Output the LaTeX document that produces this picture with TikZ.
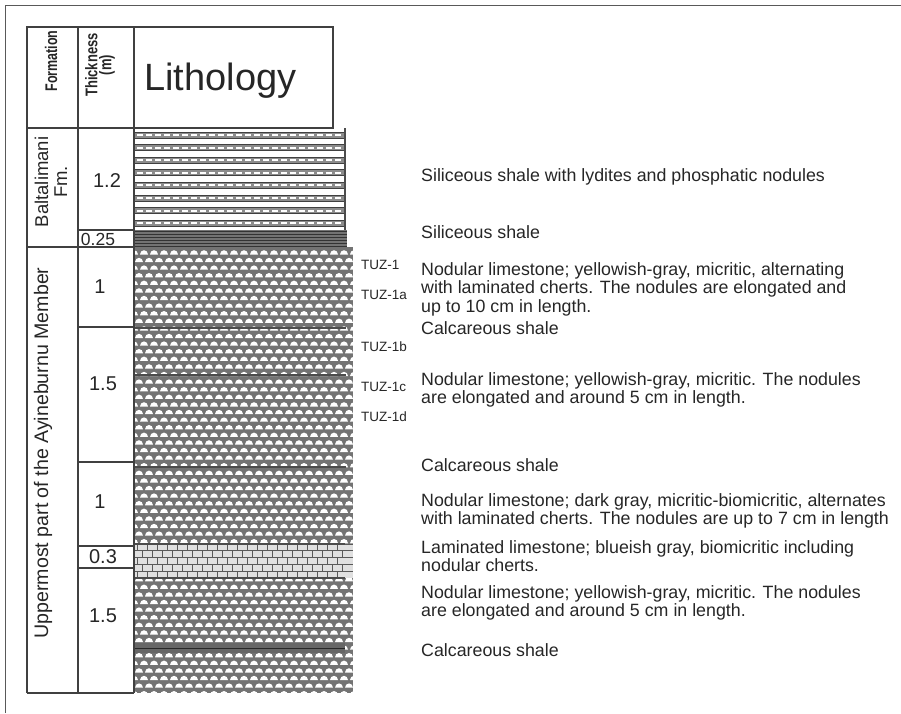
\documentclass[tikz,border=0pt]{standalone}
\usepackage{fontspec}
\setmainfont{Liberation Sans}
\usetikzlibrary{positioning}

\begin{document}
\begin{tikzpicture}[
    x=1pt, y=-1pt,
    grid/.style={draw=black!75, line width=1.1pt},
    head/.style={rotate=90, align=center, inner sep=0pt, font=\bfseries\fontsize{12.5}{14}\selectfont, text=black!85},
    unit/.style={rotate=90, align=center, inner sep=0pt, font=\fontsize{18.5}{19}\selectfont, text=black!85},
    num/.style={inner sep=0pt, font=\fontsize{20}{20}\selectfont, text=black!85},
    sample/.style={anchor=west, inner sep=0pt, font=\fontsize{13.5}{14}\selectfont, text=black!85},
    desc/.style={anchor=west, align=left, inner sep=0pt, font=\fontsize{17.8}{18.5}\selectfont, text=black!85},
    shale/.style={draw=black!70, line width=2.5pt},
]
\useasboundingbox (0,0) rectangle (901,713);

% Frame
\draw[black!65, line width=1.5pt] (5.5,713) -- (5.5,5.5) -- (901,5.5);

% Nodular limestone
\begin{scope}
    \clip (134,247) rectangle (353,693);
    \fill[black!55] (134,247) rectangle (353,693);
    \foreach \j in {0,...,59}
        \foreach \i in {0,...,22}
            \fill[white] ({130+10*\i+5*mod(\j,2)},{254.5+7.6*\j}) arc[start angle=180, end angle=360, x radius=4, y radius=4.3];
\end{scope}

% Siliceous shale
\fill[white] (134,128) rectangle (345,230);
\foreach \k in {0,...,7} {
    \fill[black!45] (134,{132+12.6*\k}) rectangle (345,{138+12.6*\k});
    \draw[black!75, line width=0.9pt] (134,{132+12.6*\k}) -- (345,{132+12.6*\k});
    \draw[black!75, line width=0.9pt] (134,{138+12.6*\k}) -- (345,{138+12.6*\k});
    \draw[white, line width=2pt, dash pattern=on 6pt off 3pt] (137,{135+12.6*\k}) -- (345,{135+12.6*\k});
}
\draw[black!70, line width=1.3pt] (345,128) -- (345,230);
\fill[black!55] (134,230) rectangle (347,247);
\foreach \k in {0,...,5}
    \draw[black!80, line width=0.8pt] (134,{231+3*\k}) -- (347,{231+3*\k});

% Calcareous shale
\foreach \yy in {328,375,467}
    \draw[shale] (134,\yy) -- (346,\yy);
\fill[black!60] (134,643) rectangle (345,653);
\draw[black!85, line width=1pt] (134,648) -- (345,648);

% Laminated limestone
\fill[black!12] (134,544) rectangle (353,578);
\foreach \k in {0,...,4} {
    \draw[black!65, line width=1pt] (134,{544+6.8*\k}) -- (353,{544+6.8*\k});
    \foreach \i in {0,...,20}
        \draw[black!65, line width=1pt] ({137+10*\i+5*mod(\k,2)},{544+6.8*\k}) -- ++(0,6.8);
}
\draw[shale] (134,544) -- (345,544);
\draw[shale] (134,578) -- (345,578);

% Table
\draw[grid] (27,693) -- (27,27) -- (333,27) -- (333,128) -- (27,128);
\draw[grid] (78,27) -- (78,693);
\draw[grid, line width=1.8pt] (134,27) -- (134,693);
\draw[grid] (27,693) -- (134,693);
\draw[grid] (27,247) -- (134,247);
\foreach \yy in {230,327,462,546,568}
    \draw[grid] (78,\yy) -- (134,\yy);

% Headers
\node[head] (formation) at (51,61) {\scalebox{1}[1.35]{Formation}};
\node[head, font=\bfseries\fontsize{13}{14}\selectfont] (thickness) at (100,65) {\scalebox{1}[1.3]{Thickness}\\\scalebox{1}[1.3]{(m)}};
\node[anchor=base west, inner sep=0pt, font=\fontsize{38}{38}\selectfont, text=black!85] (lithology) at (144,90) {Lithology};

% Formations
\node[unit] (baltalimani) at (51,182) {Baltalimani\\Fm.};
\node[unit, font=\fontsize{19.6}{19.6}\selectfont] (ayineburnu) at (43,453) {Uppermost part of the Ayineburnu Member};

% Thickness
\node[num] (t1) at (107,181) {1.2};
\node[num, font=\fontsize{17.5}{17.5}\selectfont] (t2) at (98,239) {0.25};
\node[num] (t3) at (100,287) {1};
\node[num] (t4) at (103,384) {1.5};
\node[num] (t5) at (100,502) {1};
\node[num] (t6) at (103,557) {0.3};
\node[num] (t7) at (103,616) {1.5};

% Samples
\node[sample] (tuz1) at (361,265) {TUZ-1};
\node[sample] (tuz1a) at (361,295) {TUZ-1a};
\node[sample] (tuz1b) at (361,347) {TUZ-1b};
\node[sample] (tuz1c) at (361,387) {TUZ-1c};
\node[sample] (tuz1d) at (361,417) {TUZ-1d};

% Descriptions
\node[desc] (d1) at (421,177) {Siliceous shale with lydites and phosphatic nodules};
\node[desc] (d2) at (421,232) {Siliceous shale};
\node[desc] (d3) at (421,289) {Nodular limestone; yellowish-gray, micritic, alternating\\with laminated cherts. The nodules are elongated and\\up to 10 cm in length.};
\node[desc] (d4) at (421,328) {Calcareous shale};
\node[desc] (d5) at (421,390) {Nodular limestone; yellowish-gray, micritic. The nodules\\are elongated and around 5 cm in length.};
\node[desc] (d6) at (421,465) {Calcareous shale};
\node[desc] (d7) at (421,511) {Nodular limestone; dark gray, micritic-biomicritic, alternates\\with laminated cherts. The nodules are up to 7 cm in length};
\node[desc] (d8) at (421,556) {Laminated limestone; blueish gray, biomicritic including\\nodular cherts.};
\node[desc] (d9) at (421,603) {Nodular limestone; yellowish-gray, micritic. The nodules\\are elongated and around 5 cm in length.};
\node[desc] (d10) at (421,650) {Calcareous shale};

\end{tikzpicture}
\end{document}
